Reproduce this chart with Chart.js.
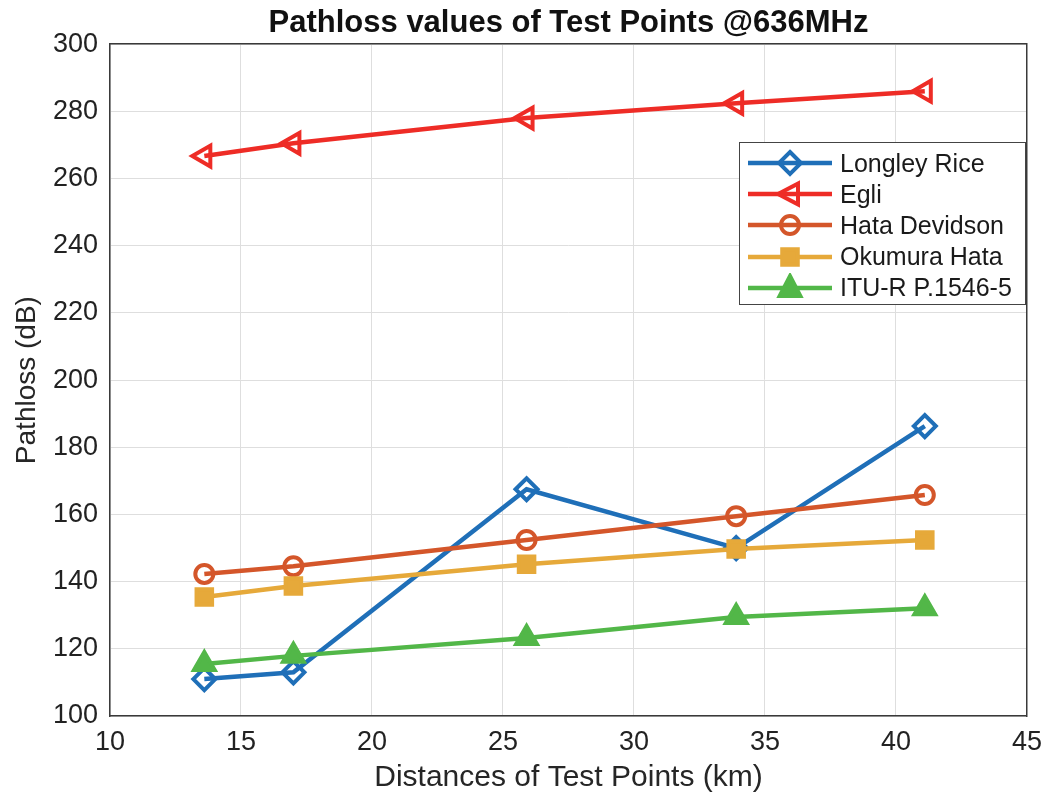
<!DOCTYPE html>
<html>
<head>
<meta charset="utf-8">
<script src="https://cdn.jsdelivr.net/npm/chart.js@4/dist/chart.umd.min.js"></script>
<style>
  body { margin: 0; background: #fff; }
  #wrap { position: relative; width: 1052px; height: 800px; }
  #legend {
    position: absolute; left: 739px; top: 142px; width: 285px; height: 161px;
    border: 1.5px solid #444; background: #fff;
    font-family: 'Liberation Sans', Arial, sans-serif; font-size: 25px; color: #1a1a1a;
  }
  .row { position: absolute; left: 0; height: 30px; display: flex; align-items: center; }
  .row canvas { margin-left: 6px; }
  .row span { margin-left: 6px; }
</style>
</head>
<body>
<div id="wrap">
  <canvas id="chart" width="1052" height="800"></canvas>
  <div id="legend"></div>
</div>
<script>
// values
var distances = [13.6, 17.0, 25.9, 33.9, 41.1];
var longleyRice = [111, 113, 167.5, 150, 186.3];
var egli = [266.7, 270.5, 278, 282.4, 286];
var hataDevidson = [142.3, 144.6, 152.4, 159.5, 165.8];
var okumuraHata = [135.4, 138.7, 145.2, 149.7, 152.4];
var ituR = [115.5, 117.9, 123.2, 129.5, 132.1];

var seriesNames = ['Longley Rice', 'Egli', 'Hata Devidson', 'Okumura Hata', 'ITU-R P.1546-5'];
var seriesValues = [longleyRice, egli, hataDevidson, okumuraHata, ituR];
var seriesColors = ['#1f6fb8', '#ee2c26', '#d4562a', '#e6a93a', '#52b748'];
var markers = ['rectRot', 'triangle', 'circle', 'rect', 'triangle'];
var rotations = [0, -90, 0, 0, 0];
var radii = [11, 12, 9, 11, 12];
var filled = [false, false, false, true, true];

var font = "'Liberation Sans', Arial, sans-serif";

var datasets = seriesNames.map(function (name, i) {
  return {
    label: name,
    data: distances.map(function (d, j) { return { x: d, y: seriesValues[i][j] }; }),
    borderColor: seriesColors[i],
    backgroundColor: seriesColors[i],
    borderWidth: 4.5,
    pointStyle: markers[i],
    pointRotation: rotations[i],
    pointRadius: radii[i],
    pointBorderWidth: 4,
    pointBorderColor: seriesColors[i],
    pointBackgroundColor: filled[i] ? seriesColors[i] : 'rgba(0,0,0,0)',
    order: seriesNames.length - i,
    tension: 0
  };
});

var chart = new Chart(document.getElementById('chart'), {
  type: 'line',
  data: { datasets: datasets },
  options: {
    responsive: false,
    animation: false,
    events: [],
    layout: { padding: { left: 0, right: 22, top: 0, bottom: 0 } },
    plugins: {
      legend: { display: false },
      tooltip: { enabled: false },
      title: {
        display: true,
        fullSize: false,
        text: 'Pathloss values of Test Points @636MHz',
        color: '#111',
        font: { family: font, size: 31, weight: 'bold' },
        padding: { top: 5, bottom: 2 }
      }
    },
    scales: {
      x: {
        type: 'linear',
        min: 10, max: 45,
        ticks: { stepSize: 5, color: '#222', font: { family: font, size: 27 }, padding: 10 },
        grid: { color: '#dedede', lineWidth: 1, drawTicks: false },
        border: { display: true, color: '#3a3a3a', width: 1.5 },
        title: {
          display: true, text: 'Distances of Test Points (km)', color: '#262626',
          font: { family: font, size: 30 }, padding: { top: 0, bottom: 4 }
        },
        afterFit: function (s) { s.height = 84; }
      },
      y: {
        min: 100, max: 300,
        ticks: { stepSize: 20, color: '#222', font: { family: font, size: 27 }, padding: 12 },
        grid: { color: '#dedede', lineWidth: 1, drawTicks: false },
        border: { display: true, color: '#3a3a3a', width: 1.5 },
        title: {
          display: true, text: 'Pathloss (dB)', color: '#262626',
          font: { family: font, size: 28 }, padding: { top: 10, bottom: 0 }
        },
        afterFit: function (s) { s.width = 110; }
      },
      xTop: {
        type: 'linear', position: 'top', min: 10, max: 45,
        ticks: { display: false }, grid: { display: false },
        border: { display: true, color: '#3a3a3a', width: 1.5 },
        afterFit: function (s) { s.height = 0; }
      },
      yRight: {
        position: 'right', min: 100, max: 300,
        ticks: { display: false }, grid: { display: false },
        border: { display: true, color: '#3a3a3a', width: 1.5 },
        afterFit: function (s) { s.width = 0; }
      }
    }
  }
});

// legend with line + marker icons, placed inside the plot like the original
function drawMarker(ctx, style, x, y, r, rot, fill, color) {
  ctx.save();
  ctx.translate(x, y);
  ctx.rotate(rot * Math.PI / 180);
  ctx.beginPath();
  if (style === 'rectRot') {
    ctx.moveTo(0, -r); ctx.lineTo(r, 0); ctx.lineTo(0, r); ctx.lineTo(-r, 0); ctx.closePath();
  } else if (style === 'triangle') {
    ctx.moveTo(0, -r); ctx.lineTo(r * 0.866, r * 0.5 + 2); ctx.lineTo(-r * 0.866, r * 0.5 + 2); ctx.closePath();
  } else if (style === 'circle') {
    ctx.arc(0, 0, r, 0, Math.PI * 2);
  } else {
    var h = r * 0.707;
    ctx.rect(-h, -h, 2 * h, 2 * h);
  }
  if (fill) { ctx.fillStyle = color; ctx.fill(); }
  ctx.lineWidth = 4;
  ctx.strokeStyle = color;
  ctx.stroke();
  ctx.restore();
}

var legend = document.getElementById('legend');
seriesNames.forEach(function (name, i) {
  var row = document.createElement('div');
  row.className = 'row';
  row.style.top = (5 + i * 31.2) + 'px';
  var c = document.createElement('canvas');
  c.width = 88; c.height = 30;
  var ctx = c.getContext('2d');
  ctx.strokeStyle = seriesColors[i];
  ctx.lineWidth = 4.5;
  ctx.beginPath(); ctx.moveTo(2, 15); ctx.lineTo(86, 15); ctx.stroke();
  drawMarker(ctx, markers[i], 44, 15, radii[i], rotations[i], filled[i], seriesColors[i]);
  var t = document.createElement('span');
  t.textContent = name;
  row.appendChild(c);
  row.appendChild(t);
  legend.appendChild(row);
});
</script>
</body>
</html>
